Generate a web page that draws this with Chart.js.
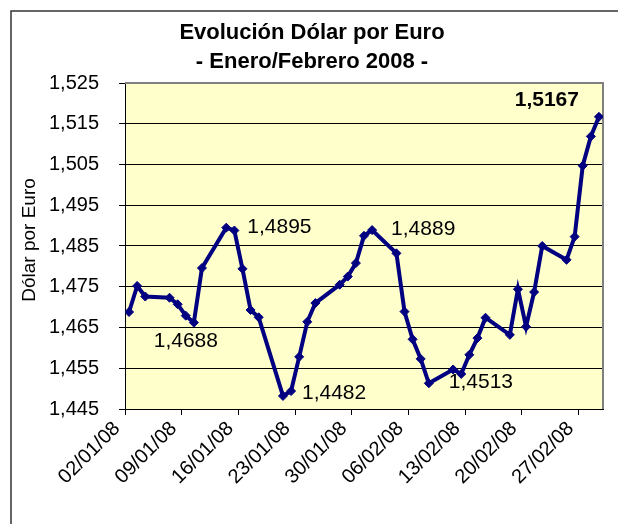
<!DOCTYPE html>
<html>
<head>
<meta charset="utf-8">
<script src="https://cdn.jsdelivr.net/npm/chart.js@4/dist/chart.umd.min.js"></script>
<style>
  html, body { margin: 0; padding: 0; background: #ffffff; }
  #wrap { position: relative; width: 618px; height: 524px; }
  canvas { display: block; }
</style>
</head>
<body>
<div id="wrap"><canvas id="c" width="618" height="524"></canvas></div>
<script>
// ---- data ----
const dates = [
  '02/01/08','03/01/08','04/01/08','07/01/08','08/01/08','09/01/08','10/01/08','11/01/08',
  '14/01/08','15/01/08','16/01/08','17/01/08','18/01/08',
  '21/01/08','22/01/08','23/01/08','24/01/08','25/01/08',
  '28/01/08','29/01/08','30/01/08','31/01/08','01/02/08',
  '04/02/08','05/02/08','06/02/08','07/02/08','08/02/08',
  '11/02/08','12/02/08','13/02/08','14/02/08','15/02/08',
  '18/02/08','19/02/08','20/02/08','21/02/08','22/02/08',
  '25/02/08','26/02/08','27/02/08','28/02/08','29/02/08'
];
const dolarPorEuro = [
  1.4688, 1.4752, 1.4726, 1.4723, 1.4707, 1.4679, 1.4662, 1.4796,
  1.4895, 1.4888, 1.4794, 1.4693, 1.4675,
  1.4482, 1.4494, 1.4578, 1.4664, 1.4710,
  1.4755, 1.4775, 1.4808, 1.4875, 1.4889,
  1.4832, 1.4689, 1.4621, 1.4573, 1.4513,
  1.4547, 1.4536, 1.4583, 1.4624, 1.4674,
  1.4632, 1.4744, 1.4652, 1.4737, 1.4850,
  1.4816, 1.4873, 1.5047, 1.5119, 1.5167
];
const xTickLabels = ['02/01/08','09/01/08','16/01/08','23/01/08','30/01/08','06/02/08','13/02/08','20/02/08','27/02/08'];
const yTickValues = [1.445, 1.455, 1.465, 1.475, 1.485, 1.495, 1.505, 1.515, 1.525];
const titleLines = ['Evolución Dólar por Euro', '- Enero/Febrero 2008 -'];
const yAxisTitle = 'Dólar por Euro';
const labelledValues = [0, 8, 13, 22, 27, 42];

// ---- layout / style (not data) ----
const labelLayout = {
  0:  { at: 6,  dx: -8,  dy: 19, align: 'center', bold: false },
  8:  { at: 8,  dx: 21,  dy: 0,  align: 'left',   bold: false },
  13: { at: 13, dx: 19,  dy: -3, align: 'left',   bold: false },
  22: { at: 22, dx: 19,  dy: -1, align: 'left',   bold: false },
  27: { at: 27, dx: 20,  dy: -1, align: 'left',   bold: false },
  42: { at: 42, dx: -20, dy: -17, align: 'right', bold: true }
};
const FONT = '"Liberation Sans", Arial, sans-serif';

function dayIndex(s) {
  const [d, m, y] = s.split('/').map(Number);
  return Date.UTC(2000 + y, m - 1, d) / 86400000;
}
const base = dayIndex(dates[0]);
const points = dates.map((d, i) => ({ x: dayIndex(d) - base, y: dolarPorEuro[i] }));
const lastDay = dayIndex(dates[dates.length - 1]) - base;
// each day is a slot; ticks sit at the start of the labelled day's slot
const xTickPos = xTickLabels.map(s => dayIndex(s) - base - 0.5);
const fmt = v => v.toFixed(4).replace('.', ',');

const decor = {
  id: 'decor',
  beforeDraw(chart) {
    const ctx = chart.ctx, a = chart.chartArea;
    ctx.save();
    ctx.fillStyle = '#ffffff';
    ctx.fillRect(0, 0, chart.width, chart.height);
    ctx.strokeStyle = '#333333';
    ctx.lineWidth = 1.5;
    ctx.beginPath();
    ctx.moveTo(11, chart.height);
    ctx.lineTo(11, 11);
    ctx.lineTo(chart.width, 11);
    ctx.stroke();
    ctx.fillStyle = '#FFFFCC';
    ctx.fillRect(a.left, a.top, a.right - a.left, a.bottom - a.top);
    ctx.fillStyle = '#000';
    ctx.textAlign = 'center';
    ctx.textBaseline = 'middle';
    ctx.font = 'bold 22px ' + FONT;
    ctx.fillText(titleLines[0], 312, 33);
    ctx.fillText(titleLines[1], 312, 62);
    ctx.font = '19px ' + FONT;
    ctx.translate(30, 240);
    ctx.rotate(-Math.PI / 2);
    ctx.fillText(yAxisTitle, 0, 0);
    ctx.restore();
  },
  beforeDatasetsDraw(chart) {
    const ctx = chart.ctx, a = chart.chartArea;
    ctx.save();
    ctx.strokeStyle = '#808080';
    ctx.lineWidth = 2;
    ctx.beginPath();
    ctx.moveTo(a.left, a.top);
    ctx.lineTo(a.right, a.top);
    ctx.lineTo(a.right, a.bottom);
    ctx.stroke();
    ctx.restore();
  },
  afterDatasetsDraw(chart) {
    const ctx = chart.ctx;
    const meta = chart.getDatasetMeta(0);
    ctx.save();
    ctx.fillStyle = '#000';
    ctx.textBaseline = 'middle';
    labelledValues.forEach(i => {
      const L = labelLayout[i];
      const p = meta.data[L.at];
      ctx.font = (L.bold ? 'bold ' : '') + '21px ' + FONT;
      ctx.textAlign = L.align;
      ctx.fillText(fmt(dolarPorEuro[i]), p.x + L.dx, p.y + L.dy);
    });
    ctx.restore();
  }
};

new Chart(document.getElementById('c'), {
  type: 'scatter',
  data: {
    datasets: [{
      data: points,
      showLine: true,
      borderColor: '#000080',
      backgroundColor: '#000080',
      borderWidth: 4,
      pointStyle: 'rectRot',
      pointRadius: 4.5,
      pointBorderWidth: 1,
      pointBorderColor: '#000080',
      tension: 0
    }]
  },
  options: {
    responsive: false,
    animation: false,
    devicePixelRatio: 1,
    layout: { padding: { top: 83, right: 15, left: 0, bottom: 0 } },
    plugins: { legend: { display: false }, tooltip: { enabled: false }, title: { display: false } },
    scales: {
      x: {
        type: 'linear',
        min: -0.5,
        max: lastDay + 0.5,
        afterBuildTicks(scale) { scale.ticks = xTickPos.map(v => ({ value: v })); },
        afterFit(scale) { scale.height = 115; },
        grid: { display: true, drawOnChartArea: false, drawTicks: true, tickLength: 6, color: '#000', lineWidth: 1 },
        border: { display: true, color: '#000', width: 1 },
        ticks: {
          autoSkip: false,
          minRotation: 45,
          maxRotation: 45,
          padding: 2,
          labelOffset: -8,
          color: '#000',
          font: { family: FONT, size: 20 },
          callback(value) {
            const k = xTickPos.findIndex(v => Math.abs(v - value) < 1e-6);
            return k >= 0 ? xTickLabels[k] : '';
          }
        }
      },
      y: {
        min: yTickValues[0],
        max: yTickValues[yTickValues.length - 1],
        afterBuildTicks(scale) { scale.ticks = yTickValues.map(v => ({ value: v })); },
        afterFit(scale) { scale.width = 125; },
        grid: { display: true, drawOnChartArea: true, drawTicks: true, tickLength: 6, color: '#000', lineWidth: 1 },
        border: { display: true, color: '#000', width: 1 },
        ticks: {
          padding: 20,
          color: '#000',
          font: { family: FONT, size: 20 },
          callback(value) { return value.toFixed(3).replace('.', ','); }
        }
      }
    }
  },
  plugins: [decor]
});
</script>
</body>
</html>
